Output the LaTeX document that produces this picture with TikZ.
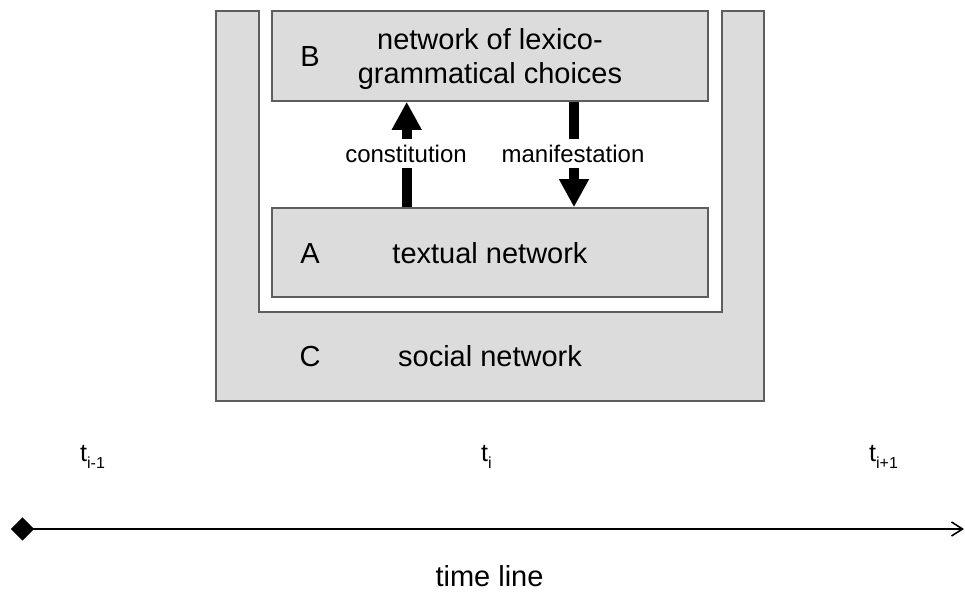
\documentclass[tikz,border=0pt]{standalone}
\usepackage{fontspec}
\setmainfont{Liberation Sans}
\usetikzlibrary{arrows.meta}
\definecolor{boxgray}{HTML}{DCDCDC}
\definecolor{edgegray}{HTML}{5E5E5E}
\tikzset{
  greybox/.style={draw=edgegray, line width=1.6pt, fill=boxgray, inner sep=0pt},
  bigtext/.style={font=\fontsize{29}{34}\selectfont, inner sep=0pt, anchor=base},
  smalltext/.style={font=\fontsize{24}{28}\selectfont, anchor=base, fill=white, inner xsep=2pt, inner ysep=0pt},
  timetext/.style={font=\fontsize{25}{28}\selectfont, inner sep=0pt, anchor=base west},
  fatarrow/.style={line width=10pt, -{Triangle[width=28pt,length=28pt]}},
}
\newcommand{\subsc}[1]{\raisebox{-7pt}{\fontsize{16}{16}\selectfont #1}}
\begin{document}
\begin{tikzpicture}[x=1pt,y=-1pt]
\useasboundingbox (0,0) rectangle (965,592);
% C: U-shaped social network
\draw[draw=edgegray, line width=1.6pt, fill=boxgray]
  (216,11) -- (258.7,11) -- (258.7,311.7) -- (722,311.7) -- (722,11)
  -- (764,11) -- (764,401) -- (216,401) -- cycle;
% boxes
\node[greybox, minimum width=436pt, minimum height=90pt] (B) at (490,56) {};
\node[greybox, minimum width=436pt, minimum height=89pt] (A) at (490,252.5) {};
% texts
\node[bigtext] (Blabel) at (310,66) {B};
\node[bigtext] (Btext1) at (490,49) {network of lexico-};
\node[bigtext] (Btext2) at (490,83) {grammatical choices};
\node[bigtext] (Alabel) at (310,263) {A};
\node[bigtext] (Atext) at (490,263) {textual network};
\node[bigtext] (Clabel) at (310,366.7) {C};
\node[bigtext] (Ctext) at (490,366.7) {social network};
% arrows
\coordinate (cx) at (406.7,0);
\coordinate (mx) at (574,0);
\draw[fatarrow] (A.north -| cx) -- (B.south -| cx);
\draw[fatarrow] (B.south -| mx) -- (A.north -| mx);
\node[smalltext, text height=23.7pt, text depth=5.3pt] (constl) at (406,162.7) {constitution};
\node[smalltext, text height=23.7pt, text depth=5.3pt] (manil) at (573,162.7) {manifestation};
% time line
\node[fill=black, minimum width=16.5pt, minimum height=16.5pt, inner sep=0pt, rotate=45] (start) at (22.5,529) {};
\coordinate (tend) at (964,529);
\draw[line width=1.6pt, -{Straight Barb[length=11pt,width=14pt]}] (start.center) -- (tend);
\node[timetext] (t1) at (80,461) {t\subsc{i-1}};
\node[timetext] (t2) at (481,461) {t\subsc{i}};
\node[timetext] (t3) at (869,461) {t\subsc{i+1}};
\node[bigtext] (tl) at (489.5,586) {time line};
\end{tikzpicture}
\end{document}
